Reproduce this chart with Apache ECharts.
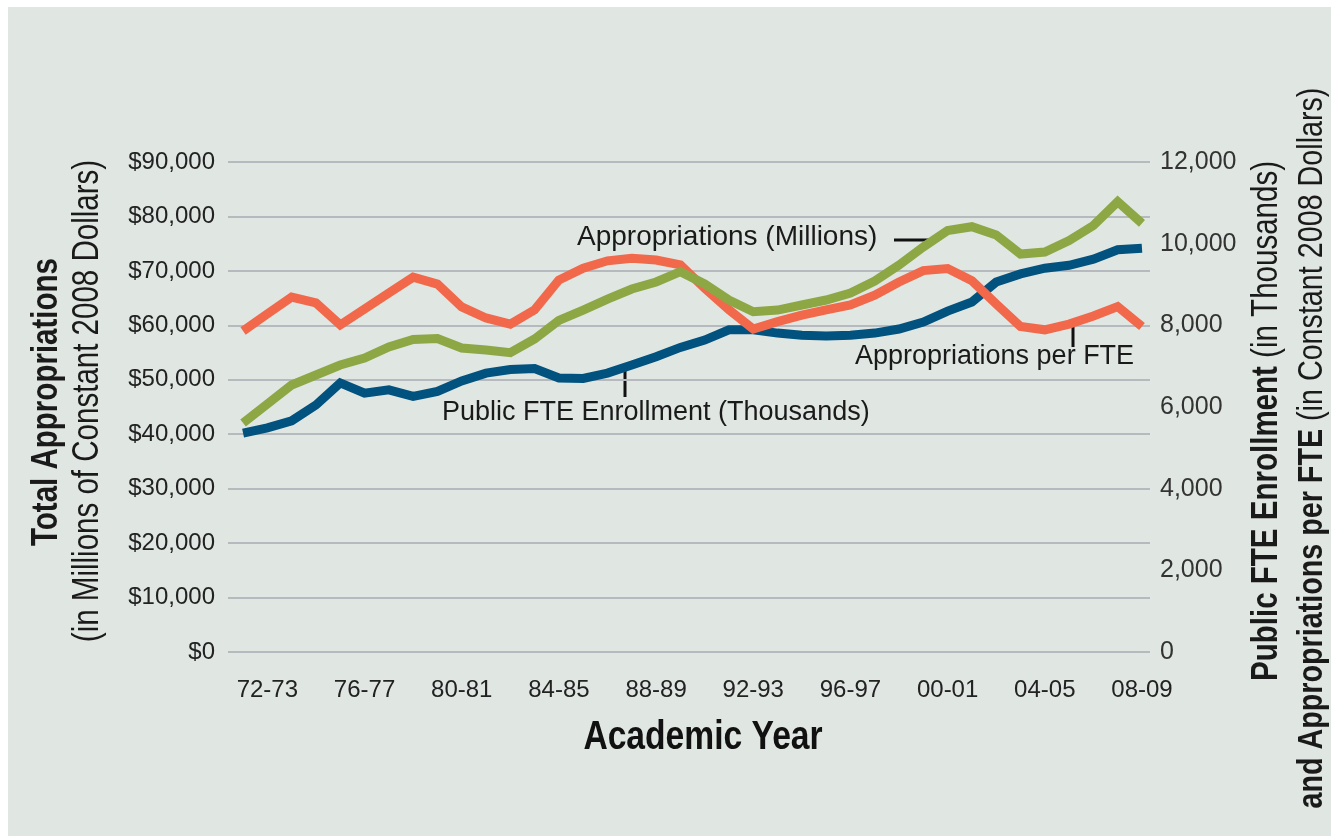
<!DOCTYPE html>
<html>
<head>
<meta charset="utf-8">
<script src="https://cdn.jsdelivr.net/npm/echarts@6/dist/echarts.min.js"></script>
<style>
html,body{margin:0;padding:0;background:#ffffff;}
#bg{position:absolute;left:8px;top:7px;width:1323px;height:829px;background:#e0e6e2;}
#chart{position:absolute;left:0;top:0;width:1331px;height:836px;}
</style>
</head>
<body>
<div id="bg"></div>
<div id="chart"></div>
<script>
// Academic years (first point 71-72, last 08-09)
const categories = ['71-72','72-73','73-74','74-75','75-76','76-77','77-78','78-79','79-80','80-81',
  '81-82','82-83','83-84','84-85','85-86','86-87','87-88','88-89','89-90','90-91',
  '91-92','92-93','93-94','94-95','95-96','96-97','97-98','98-99','99-00','00-01',
  '01-02','02-03','03-04','04-05','05-06','06-07','07-08','08-09'];

// Public FTE Enrollment (thousands) - right axis
const fteThousands = [5360,5490,5660,6050,6590,6340,6420,6260,6380,6640,
  6830,6920,6940,6710,6700,6830,7030,7230,7460,7640,
  7890,7890,7810,7760,7740,7760,7810,7910,8080,8350,
  8570,9060,9260,9400,9470,9620,9850,9890];

// Total appropriations (millions of constant 2008 dollars) - left axis
const appropriationsMillions = [42060,45550,49040,50880,52710,54000,56020,57400,57580,55840,
  55470,54970,57490,60890,62810,64830,66670,67960,69850,67590,
  64650,62500,62810,63730,64650,65940,68140,71080,74390,77420,
  78110,76590,73100,73470,75580,78330,82710,78740];

// Appropriations per FTE (constant 2008 dollars) - right axis
const appropriationsPerFTE = [7860,8280,8690,8550,8010,8400,8790,9180,9010,8450,
  8180,8030,8380,9110,9400,9580,9640,9600,9480,8910,
  8380,7910,8090,8250,8380,8500,8740,9060,9340,9390,
  9090,8520,7970,7890,8030,8230,8460,7970];

// x tick labels: every 4th year starting at 72-73
const xTickLabels = ['72-73','76-77','80-81','84-85','88-89','92-93','96-97','00-01','04-05','08-09'];

const seriesNames = ['Public FTE Enrollment (Thousands)','Appropriations (Millions)','Appropriations per FTE'];

const REG = "'Liberation Sans',Arial,sans-serif";
const NARROW_X = 0.82; // horizontal squeeze to imitate a condensed face

const toPairs = arr => arr.map((v, i) => [i, v]);
const tickIdx = xTickLabels.map(l => categories.indexOf(l));

const chart = echarts.init(document.getElementById('chart'), null, {renderer: 'canvas'});

const centered = {textAlign: 'center', textVerticalAlign: 'middle', align: 'center', verticalAlign: 'middle'};
const lefted = {textAlign: 'left', textVerticalAlign: 'middle', align: 'left', verticalAlign: 'middle'};

const option = {
  backgroundColor: 'transparent',
  animation: false,
  grid: {left: 228, right: 181, top: 162, bottom: 184, containLabel: false},
  xAxis: {
    type: 'value',
    min: -0.62,
    max: 37.33,
    axisLine: {show: false},
    axisTick: {show: false},
    splitLine: {show: false},
    axisLabel: {
      customValues: tickIdx,
      formatter: v => categories[Math.round(v)],
      fontFamily: REG,
      fontSize: 24,
      color: '#222',
      margin: 26
    }
  },
  yAxis: [
    {
      type: 'value',
      position: 'left',
      min: 0, max: 90000, interval: 10000,
      axisLine: {show: false},
      axisTick: {show: false},
      splitLine: {lineStyle: {color: '#b6b9be', width: 2}},
      axisLabel: {
        formatter: v => '$' + v.toLocaleString('en-US'),
        fontFamily: REG,
        fontSize: 24,
        color: '#222',
        margin: 13
      }
    },
    {
      type: 'value',
      position: 'right',
      min: 0, max: 12000, interval: 2000,
      axisLine: {show: false},
      axisTick: {show: false},
      splitLine: {show: false},
      axisLabel: {
        formatter: v => v.toLocaleString('en-US'),
        fontFamily: REG,
        fontSize: 25,
        color: '#333',
        margin: 10
      }
    }
  ],
  series: [
    {
      name: seriesNames[0], type: 'line', yAxisIndex: 1,
      data: toPairs(fteThousands), showSymbol: false,
      lineStyle: {color: '#02527f', width: 9, join: 'miter'}, z: 2
    },
    {
      name: seriesNames[2], type: 'line', yAxisIndex: 1,
      data: toPairs(appropriationsPerFTE), showSymbol: false,
      lineStyle: {color: '#f2684b', width: 9, join: 'miter'}, z: 3
    },
    {
      name: seriesNames[1], type: 'line', yAxisIndex: 0,
      data: toPairs(appropriationsMillions), showSymbol: false,
      lineStyle: {color: '#8da745', width: 9, join: 'miter'}, z: 4
    }
  ],
  graphic: [
    // left axis title
    {type: 'text', x: 47, y: 402, rotation: Math.PI / 2, scaleX: NARROW_X,
      style: Object.assign({text: 'Total Appropriations', font: 'bold 36px ' + REG, fill: '#1a1a1a'}, centered)},
    {type: 'text', x: 88, y: 401, rotation: Math.PI / 2, scaleX: NARROW_X,
      style: Object.assign({text: '(in Millions of Constant 2008 Dollars)', font: '36px ' + REG, fill: '#1a1a1a'}, centered)},
    // right axis title
    {type: 'text', x: 1267, y: 421, rotation: Math.PI / 2, scaleX: NARROW_X,
      style: Object.assign({text: '{b|Public FTE Enrollment} {r|(in Thousands)}',
        rich: {b: {fontFamily: REG, fontWeight: 'bold', fontSize: 36, fill: '#1a1a1a'},
               r: {fontFamily: REG, fontSize: 36, fill: '#1a1a1a'}},
        font: '36px ' + REG, fill: '#1a1a1a'}, centered)},
    {type: 'text', x: 1312, y: 448, rotation: Math.PI / 2, scaleX: NARROW_X,
      style: Object.assign({text: '{b|and Appropriations per FTE} {r|(in Constant 2008 Dollars)}',
        rich: {b: {fontFamily: REG, fontWeight: 'bold', fontSize: 35, fill: '#1a1a1a'},
               r: {fontFamily: REG, fontSize: 35, fill: '#1a1a1a'}},
        font: '35px ' + REG, fill: '#1a1a1a'}, centered)},
    // x axis title
    {type: 'text', x: 703, y: 738, scaleX: NARROW_X,
      style: Object.assign({text: 'Academic Year', font: 'bold 41px ' + REG, fill: '#111'}, centered)},
    // annotations
    {type: 'text', x: 577, y: 237,
      style: Object.assign({text: seriesNames[1], font: '28px ' + REG, fill: '#1a1a1a'}, lefted)},
    {type: 'line', shape: {x1: 894, y1: 240, x2: 929, y2: 240}, style: {stroke: '#111', lineWidth: 3}},
    {type: 'text', x: 442, y: 413,
      style: Object.assign({text: seriesNames[0], font: '27px ' + REG, fill: '#1a1a1a'}, lefted)},
    {type: 'line', shape: {x1: 625, y1: 366, x2: 625, y2: 397}, style: {stroke: '#111', lineWidth: 3}},
    {type: 'text', x: 855, y: 357,
      style: Object.assign({text: seriesNames[2], font: '27px ' + REG, fill: '#1a1a1a'}, lefted)},
    {type: 'line', shape: {x1: 1073, y1: 321, x2: 1073, y2: 347}, style: {stroke: '#111', lineWidth: 3}}
  ]
};
chart.setOption(option);
</script>
</body>
</html>
